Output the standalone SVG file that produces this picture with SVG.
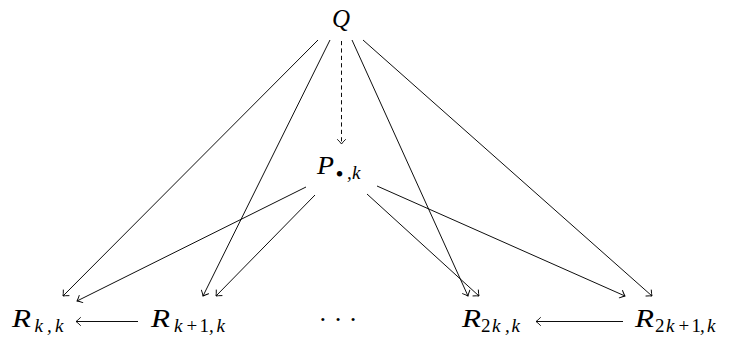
<svg xmlns="http://www.w3.org/2000/svg" width="729" height="341" viewBox="0 0 729 341">
<defs>
<marker id="to" markerUnits="userSpaceOnUse" viewBox="-7 -6 12 12" markerWidth="12" markerHeight="12" refX="0" refY="0" orient="auto" overflow="visible">
<path d="M-4.5,-4 Q-1.8,-1.2 0,0 Q-1.8,1.2 -4.5,4" fill="none" stroke="#000" stroke-width="0.9" stroke-linecap="round"/>
</marker>
</defs>
<rect width="729" height="341" fill="#fff"/>
<g id="connectors" stroke="#000" stroke-width="0.95" fill="none" marker-end="url(#to)">
<line x1="318" y1="40" x2="63" y2="296"/>
<line x1="330" y1="40" x2="203" y2="296"/>
<line stroke-dasharray="4.2 3.2" x1="341.5" y1="41" x2="341.5" y2="144"/>
<line x1="352" y1="40" x2="468" y2="296"/>
<line x1="363" y1="40" x2="652" y2="296"/>
<line x1="306" y1="187" x2="77" y2="301"/>
<line x1="315" y1="195" x2="216" y2="296"/>
<line x1="367" y1="194" x2="479" y2="296"/>
<line x1="377" y1="186" x2="625" y2="296"/>
<line x1="138" y1="321.5" x2="76" y2="321.5"/>
<line x1="623" y1="321.5" x2="536" y2="321.5"/>
</g>
<g id="Q"><text font-family="Liberation Serif" font-style="italic" font-size="25" fill="#000" x="341" y="27" text-anchor="middle">Q</text></g>
<g id="P"><text font-family="Liberation Serif" font-style="italic" font-size="25" fill="#000" y="174"><tspan x="317" textLength="17" lengthAdjust="spacingAndGlyphs">P</tspan><tspan x="335.5" y="182" font-size="23" font-style="normal">•</tspan><tspan x="347 352" y="179" font-size="19">,k</tspan></text></g>
<g id="Rkk"><text font-family="Liberation Serif" font-style="italic" font-size="25" fill="#000" y="327"><tspan x="12" textLength="19" lengthAdjust="spacingAndGlyphs">R</tspan><tspan x="34.5 47 55" y="332" font-size="19">k,k</tspan></text></g>
<g id="Rk1k"><text font-family="Liberation Serif" font-style="italic" font-size="25" fill="#000" y="327"><tspan x="151" textLength="19" lengthAdjust="spacingAndGlyphs">R</tspan><tspan x="174" y="332" font-size="19">k</tspan><tspan x="186.5 199.5" y="332" font-size="19" font-style="normal">+1</tspan><tspan x="209 216.5" y="332" font-size="19">,k</tspan></text></g>
<g id="dots"><text font-family="Liberation Serif" font-size="26" fill="#000" x="338" y="328" text-anchor="middle">· · ·</text></g>
<g id="R2kk"><text font-family="Liberation Serif" font-style="italic" font-size="25" fill="#000" y="327"><tspan x="462" textLength="19" lengthAdjust="spacingAndGlyphs">R</tspan><tspan x="481" y="332" font-size="19" font-style="normal">2</tspan><tspan x="492 505 511.5" y="332" font-size="19">k,k</tspan></text></g>
<g id="R2k1k"><text font-family="Liberation Serif" font-style="italic" font-size="25" fill="#000" y="327"><tspan x="635" textLength="19" lengthAdjust="spacingAndGlyphs">R</tspan><tspan x="655" y="332" font-size="19" font-style="normal">2</tspan><tspan x="666" y="332" font-size="19">k</tspan><tspan x="678.5 691.5" y="332" font-size="19" font-style="normal">+1</tspan><tspan x="700 707" y="332" font-size="19">,k</tspan></text></g>
</svg>
